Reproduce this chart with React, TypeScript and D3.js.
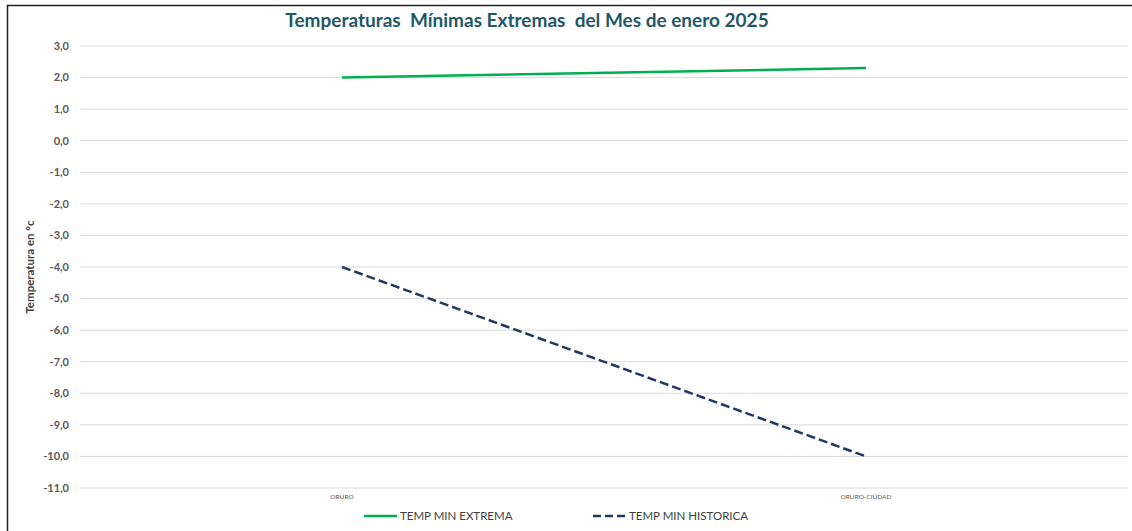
import React from 'react';
import * as d3 from 'd3';

const stations = ['ORURO', 'ORURO-CIUDAD'];
const tempExtrema = [2.0, 2.3];
const tempHistorica = [-4.0, -10.0];
const yTicks = d3.range(3, -12, -1);

const W = 1132, H = 531;
const m = { t: 46, r: 4, b: 43, l: 80 };
const font = 'Lato, "Open Sans", sans-serif';

export default function App() {
  const x = d3.scaleBand().domain(stations).range([m.l, W - m.r]);
  const y = d3.scaleLinear().domain([-11, 3]).range([H - m.b, m.t]);
  const cx = (d: string) => (x(d) || 0) + x.bandwidth() / 2;
  const line = d3.line<number>().x((_, i) => cx(stations[i])).y(d => y(d));
  const fmt = (v: number) => v.toFixed(1).replace('.', ',');

  return (
    <svg width={W} height={H} style={{ position: 'absolute', left: 0, top: 0, background: '#fff' }}>
      <rect x={7.5} y={5.5} width={W} height={H} fill="#fff" stroke="#222" strokeWidth={1.5} />
      <text x={527} y={27} textAnchor="middle" fontFamily={font} fontWeight="bold" fontSize={19} fill="#1F5868" style={{ whiteSpace: 'pre' }}>
        {'Temperaturas  Mínimas Extremas  del Mes de enero 2025'}
      </text>
      {yTicks.map(t => (
        <g key={t}>
          <line x1={m.l} x2={W - m.r} y1={y(t)} y2={y(t)} stroke="#d9d9d9" strokeWidth={1} />
          <text x={69} y={y(t)} dy="0.35em" textAnchor="end" fontFamily={font} fontWeight="bold" fontSize={11} fill="#595959">
            {fmt(t)}
          </text>
        </g>
      ))}
      <text transform={`translate(34,${(m.t + H - m.b) / 2}) rotate(-90)`} textAnchor="middle" fontFamily={font} fontWeight="bold" fontSize={11.5} fill="#404040">
        Temperatura en °c
      </text>
      {stations.map(s => (
        <text key={s} x={cx(s)} y={499} textAnchor="middle" fontFamily={font} fontSize={6.5} fill="#595959">
          {s}
        </text>
      ))}
      <path d={line(tempExtrema) || ''} fill="none" stroke="#00B050" strokeWidth={2.5} />
      <path d={line(tempHistorica) || ''} fill="none" stroke="#1F3864" strokeWidth={2.5} strokeDasharray="9,4" />
      <g fontFamily={font} fontSize={11.5} fill="#404040">
        <line x1={364} x2={397} y1={516} y2={516} stroke="#00B050" strokeWidth={2.5} />
        <text x={400} y={516} dy="0.35em">TEMP MIN EXTREMA</text>
        <line x1={593} x2={626} y1={516} y2={516} stroke="#1F3864" strokeWidth={2.5} strokeDasharray="8,4" />
        <text x={629} y={516} dy="0.35em">TEMP MIN HISTORICA</text>
      </g>
    </svg>
  );
}
